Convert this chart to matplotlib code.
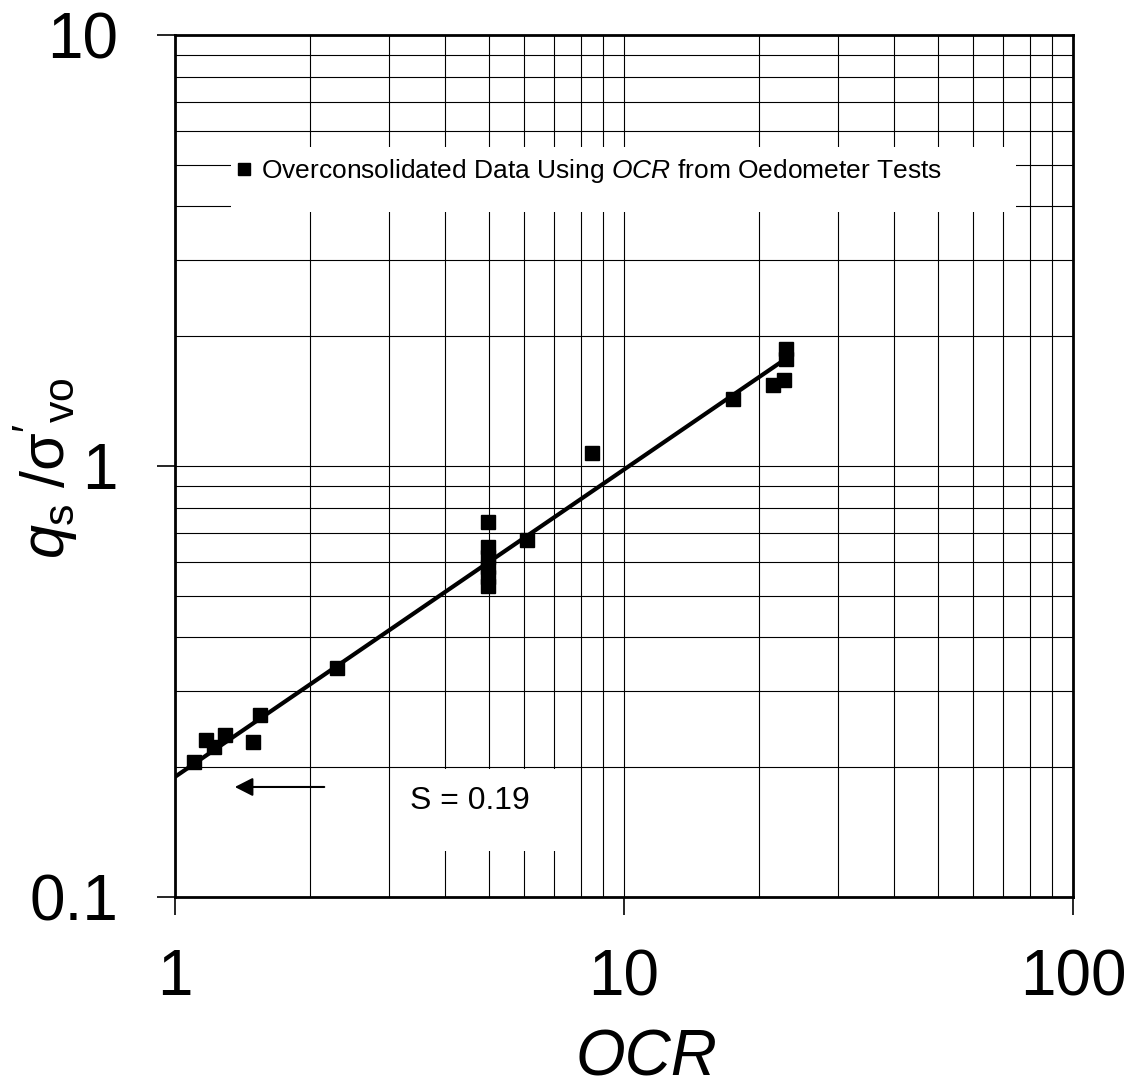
import numpy as np
import matplotlib.pyplot as plt
from matplotlib.patches import Rectangle
from matplotlib.ticker import NullFormatter

plt.rcParams['font.family'] = ['Liberation Sans', 'DejaVu Sans']
plt.rcParams['mathtext.fontset'] = 'custom'
plt.rcParams['mathtext.rm'] = 'Liberation Sans'
plt.rcParams['mathtext.it'] = 'Liberation Sans:italic'
plt.rcParams['mathtext.bf'] = 'Liberation Sans:bold'

# points (oedometer OCR, normalized sleeve friction)
OCR = np.array([1.10, 1.17, 1.22, 1.29, 1.49, 1.55, 2.30,
                4.98, 4.98, 4.98, 4.98, 4.98, 4.98, 6.08, 8.48,
                17.5, 21.5, 22.7, 22.9, 22.9])
qs_sv = np.array([0.206, 0.231, 0.223, 0.238, 0.229, 0.264, 0.340,
                  0.741, 0.649, 0.615, 0.583, 0.553, 0.527, 0.674, 1.072,
                  1.43, 1.54, 1.58, 1.87, 1.77])

# power law: qs/sv'o = S * OCR^m
S = 0.19
m = 0.713
OCR_fit_max = 22.5

xticks = [1, 10, 100]
xticklabels = ['1', '10', '100']
yticks = [0.1, 1, 10]
yticklabels = ['0.1', '1', '10']

fig = plt.figure(figsize=(11.32, 10.79), dpi=100)
ax = fig.add_axes([0.1546, 0.1687, 0.7933, 0.7989])
ax.set_xscale('log')
ax.set_yscale('log')
ax.set_xlim(1, 100)
ax.set_ylim(0.1, 10)
ax.set_axisbelow(True)
ax.grid(True, which='both', color='black', lw=0.8)

ax.set_xticks(xticks)
ax.set_xticklabels(xticklabels)
ax.set_yticks(yticks)
ax.set_yticklabels(yticklabels)
ax.xaxis.set_minor_formatter(NullFormatter())
ax.yaxis.set_minor_formatter(NullFormatter())
ax.tick_params(which='major', direction='out', length=13, width=1.2, labelsize=46)
ax.tick_params(axis='x', pad=24)
ax.tick_params(axis='y', pad=28)
ax.tick_params(which='minor', length=0)
for sp in ax.spines.values():
    sp.set_linewidth(2)

# white boxes behind legend and S label
ax.add_patch(Rectangle((0.0624, 0.7947), 0.874, 0.0754, transform=ax.transAxes,
                       facecolor='white', edgecolor='none', zorder=1))
ax.add_patch(Rectangle((0.2416, 0.0534), 0.2049, 0.0951, transform=ax.transAxes,
                       facecolor='white', edgecolor='none', zorder=1))

# trend line and data
xf = np.logspace(0, np.log10(OCR_fit_max), 50)
ax.plot(xf, S * xf**m, color='black', lw=3, zorder=3)
ax.plot(OCR, qs_sv, 's', color='black', ms=10.5, zorder=4,
        label='Overconsolidated Data Using $\\mathit{OCR}$ from Oedometer Tests')

ax.legend(loc='center left', bbox_to_anchor=(0.0690, 0.842), frameon=False,
          fontsize=19, handlelength=0.5, handletextpad=0.4, borderpad=0,
          borderaxespad=0, markerscale=0.8)

ax.text(0.3285, 0.1114, 'S = %.2f' % S, transform=ax.transAxes,
        ha='center', va='center', fontsize=23, zorder=2)
ax.annotate('', xy=(0.0635, 0.1276), xytext=(0.1693, 0.1276), xycoords='axes fraction',
            arrowprops=dict(arrowstyle='-|>,head_length=0.55,head_width=0.28',
                            color='black', lw=1.5, mutation_scale=20))

fig.text(46 / 1132, 1 - 468 / 1079, r"$q_{\mathrm{s}}\;/\mathrm{\sigma}'_{\mathrm{vo}}$",
         rotation=90, ha='center', va='center', fontsize=44)
fig.text(646 / 1132, 4 / 1079, 'OCR', style='italic', fontsize=46,
         ha='center', va='baseline')

fig.savefig('out.png', dpi=100)
